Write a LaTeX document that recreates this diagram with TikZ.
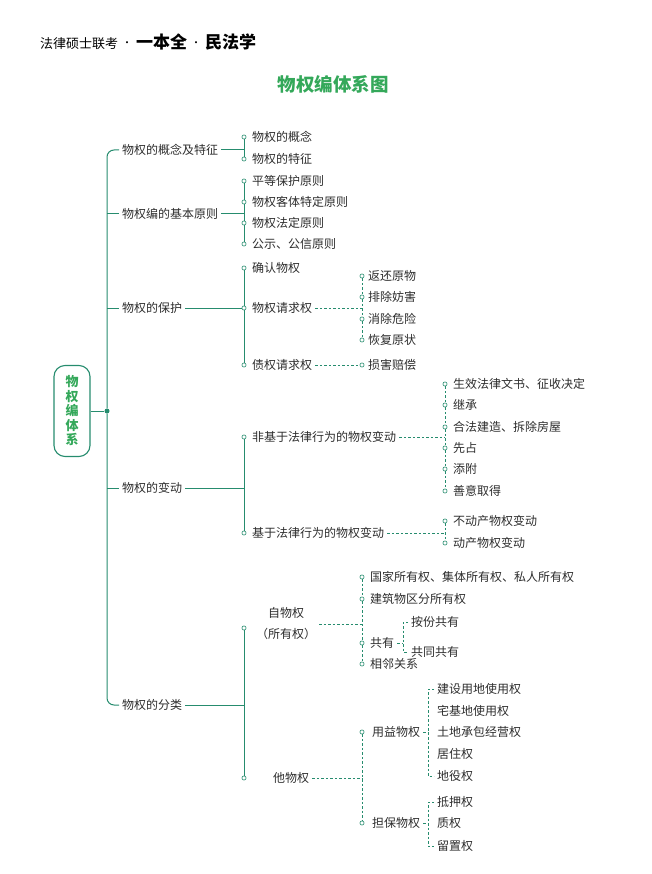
\documentclass[tikz,border=0pt]{standalone}
\usepackage{fontspec}
\setmainfont{Noto Sans CJK SC}
\definecolor{linegreen}{RGB}{38,140,110}
\definecolor{titlegreen}{RGB}{52,168,90}
\definecolor{textgray}{RGB}{45,45,45}
\tikzset{
  solidline/.style={draw=linegreen, line width=1pt},
  dashline/.style={draw=linegreen, line width=0.7pt, dash pattern=on 2.5pt off 2pt},
  odot/.style={circle, draw=linegreen, fill=white, line width=0.6pt, inner sep=0pt, minimum size=4.2pt},
  hubdot/.style={circle, fill=linegreen, inner sep=0pt, minimum size=5pt},
  item/.style={anchor=west, inner xsep=3pt, inner ysep=1pt, text=textgray, font=\fontsize{12}{12}\selectfont},
}
\newcommand{\hdot}{\hspace{4pt}\raisebox{2pt}{\fontsize{10}{10}\selectfont ·}\hspace{4pt}}

\begin{document}
\begin{tikzpicture}[x=1pt, y=-1pt]
      \useasboundingbox (0,0) rectangle (652,874);
      % header and title
      \node[anchor=west, inner sep=0pt, text=black] (header) at (40,42) {{\fontsize{13}{13}\selectfont 法律硕士联考}\hdot{\fontsize{17}{17}\selectfont\bfseries 一本全}\hdot{\fontsize{17}{17}\selectfont\bfseries 民法学}};
      \node[text=titlegreen, font=\fontsize{18.5}{18.5}\selectfont\bfseries] (title) at (333,84) {物权编体系图};

      % root
      \node[draw=linegreen, line width=1.1pt, rounded corners=11pt, minimum width=36pt, minimum height=91pt, inner sep=0pt, align=center, text=titlegreen, font=\fontsize{13}{14.5}\selectfont\bfseries] (root) at (72,411) {物\\权\\编\\体\\系};
      \node[hubdot] (hub) at (107,411) {};
      \draw[solidline] (root) -- (hub);

      % first level
      \node[item] (gainian) at (119,150) {物权的概念及特征};
      \node[item] (yuanze) at (119,214) {物权编的基本原则};
      \node[item] (baohu) at (119,308) {物权的保护};
      \node[item] (biandong) at (119,488) {物权的变动};
      \node[item] (fenlei) at (119,705) {物权的分类};
      \draw[solidline, rounded corners=7pt] (gainian.west) -| (hub.north);
      \draw[solidline, rounded corners=7pt] (fenlei.west) -| (hub.south);
      \draw[solidline] (yuanze.west) -- (yuanze.west -| hub);
      \draw[solidline] (baohu.west) -- (baohu.west -| hub);
      \draw[solidline] (biandong.west) -- (biandong.west -| hub);

      % gainian
      \node[odot] (gn1d) at (244,137) {};
      \node[odot] (gn2d) at (244,159) {};
      \node[item] (gn1) at (249,137) {物权的概念};
      \node[item] (gn2) at (249,159) {物权的特征};
      \draw[solidline] (gn1d) -- (gn2d);
      \draw[solidline] (gainian.east) -- (gainian.east -| gn1d);

      % yuanze
      \node[odot] (yz1d) at (244,181) {};
      \node[odot] (yz2d) at (244,202) {};
      \node[odot] (yz3d) at (244,223) {};
      \node[odot] (yz4d) at (244,244) {};
      \node[item] (yz1) at (249,181) {平等保护原则};
      \node[item] (yz2) at (249,202) {物权客体特定原则};
      \node[item] (yz3) at (249,223) {物权法定原则};
      \node[item] (yz4) at (249,244) {公示、公信原则};
      \draw[solidline] (yz1d) -- (yz2d) -- (yz3d) -- (yz4d);
      \draw[solidline] (yuanze.east) -- (yuanze.east -| yz1d);

      % baohu
      \node[odot] (bh1d) at (244,268) {};
      \node[odot] (bh2d) at (244,308) {};
      \node[odot] (bh3d) at (244,365) {};
      \node[item] (bh1) at (249,268) {确认物权};
      \node[item] (bh2) at (249,308) {物权请求权};
      \node[item] (bh3) at (249,365) {债权请求权};
      \draw[solidline] (bh1d) -- (bh2d) -- (bh3d);
      \draw[solidline] (baohu) -- (bh2d);

      \coordinate (qj) at (362,308);
      \node[odot] (q1d) at (362,276) {};
      \node[odot] (q2d) at (362,297) {};
      \node[odot] (q3d) at (362,319) {};
      \node[odot] (q4d) at (362,340) {};
      \node[item] (q1) at (365,276) {返还原物};
      \node[item] (q2) at (365,297) {排除妨害};
      \node[item] (q3) at (365,319) {消除危险};
      \node[item] (q4) at (365,340) {恢复原状};
      \draw[dashline] (bh2) -- (qj);
      \draw[dashline] (q1d) -- (q2d) -- (q3d) -- (q4d);

      \node[odot] (sh1d) at (362,365) {};
      \node[item] (sh1) at (365,365) {损害赔偿};
      \draw[dashline] (bh3) -- (sh1d);

      % biandong
      \node[odot] (bd1d) at (244,437) {};
      \node[odot] (bd2d) at (244,533) {};
      \node[item] (bd1) at (249,437) {非基于法律行为的物权变动};
      \node[item] (bd2) at (249,533) {基于法律行为的物权变动};
      \draw[solidline] (bd1d) -- (bd2d);
      \draw[solidline] (biandong.east) -- (biandong.east -| bd1d);

      \coordinate (fbj) at (445,437);
      \node[odot] (fb1d) at (445,384) {};
      \node[odot] (fb2d) at (445,405) {};
      \node[odot] (fb3d) at (445,427) {};
      \node[odot] (fb4d) at (445,448) {};
      \node[odot] (fb5d) at (445,469) {};
      \node[odot] (fb6d) at (445,491) {};
      \node[item] (fb1) at (450,384) {生效法律文书、征收决定};
      \node[item] (fb2) at (450,405) {继承};
      \node[item] (fb3) at (450,427) {合法建造、拆除房屋};
      \node[item] (fb4) at (450,448) {先占};
      \node[item] (fb5) at (450,469) {添附};
      \node[item] (fb6) at (450,491) {善意取得};
      \draw[dashline] (bd1) -- (fbj);
      \draw[dashline] (fb1d) -- (fb2d) -- (fb3d) -- (fb4d) -- (fb5d) -- (fb6d);

      \coordinate (jbj) at (445,533);
      \node[odot] (jb1d) at (445,521) {};
      \node[odot] (jb2d) at (445,543) {};
      \node[item] (jb1) at (450,521) {不动产物权变动};
      \node[item] (jb2) at (450,543) {动产物权变动};
      \draw[dashline] (bd2) -- (jbj);
      \draw[dashline] (jb1d) -- (jb2d);

      % fenlei
      \node[odot] (fl1d) at (244,628) {};
      \node[odot] (fl2d) at (244,778) {};
      \node[item, anchor=center, align=center, font=\fontsize{12}{21}\selectfont] (fl1) at (286,624) {自物权\\（所有权）};
      \node[item] (fl2) at (270,778) {他物权};
      \draw[solidline] (fl1d) -- (fl2d);
      \draw[solidline] (fenlei.east) -- (fenlei.east -| fl1d);

      \coordinate (zwj) at (362,624);
      \node[odot] (zw1d) at (362,577) {};
      \node[odot] (zw2d) at (362,599) {};
      \node[odot] (zw3d) at (362,643) {};
      \node[odot] (zw4d) at (362,664) {};
      \node[item] (zw1) at (367,577) {国家所有权、集体所有权、私人所有权};
      \node[item] (zw2) at (367,599) {建筑物区分所有权};
      \node[item] (zw3) at (367,643) {共有};
      \node[item] (zw4) at (367,664) {相邻关系};
      \draw[dashline] (fl1) -- (zwj);
      \draw[dashline] (zw1d) -- (zw2d) -- (zw3d) -- (zw4d);

      \coordinate (gyt) at (403,622);
      \coordinate (gyb) at (403,652);
      \node[item] (af) at (408,622) {按份共有};
      \node[item] (tg) at (408,652) {共同共有};
      \draw[dashline] (zw3) -- (zw3 -| gyt);
      \draw[dashline] (af.west) -- (gyt) -- (gyb) -- (tg.west);

      \coordinate (twj) at (362,778);
      \node[odot] (tw1d) at (362,732) {};
      \node[odot] (tw2d) at (362,823) {};
      \node[item] (tw1) at (369,732) {用益物权};
      \node[item] (tw2) at (369,823) {担保物权};
      \draw[dashline] (fl2) -- (twj);
      \draw[dashline] (tw1d) -- (tw2d);

      \coordinate (ybt) at (428,689);
      \coordinate (ybb) at (428,776);
      \node[item] (ys1) at (434,689) {建设用地使用权};
      \node[item] (ys2) at (434,711) {宅基地使用权};
      \node[item] (ys3) at (434,732) {土地承包经营权};
      \node[item] (ys4) at (434,754) {居住权};
      \node[item] (ys5) at (434,776) {地役权};
      \draw[dashline] (tw1) -- (tw1 -| ybt);
      \draw[dashline] (ys1.west) -- (ybt) -- (ybb) -- (ys5.west);

      \coordinate (dbt) at (428,802);
      \coordinate (dbb) at (428,846);
      \node[item] (db1) at (434,802) {抵押权};
      \node[item] (db2) at (434,823) {质权};
      \node[item] (db3) at (434,846) {留置权};
      \draw[dashline] (tw2) -- (tw2 -| dbt);
      \draw[dashline] (db1.west) -- (dbt) -- (dbb) -- (db3.west);
\end{tikzpicture}
\end{document}
